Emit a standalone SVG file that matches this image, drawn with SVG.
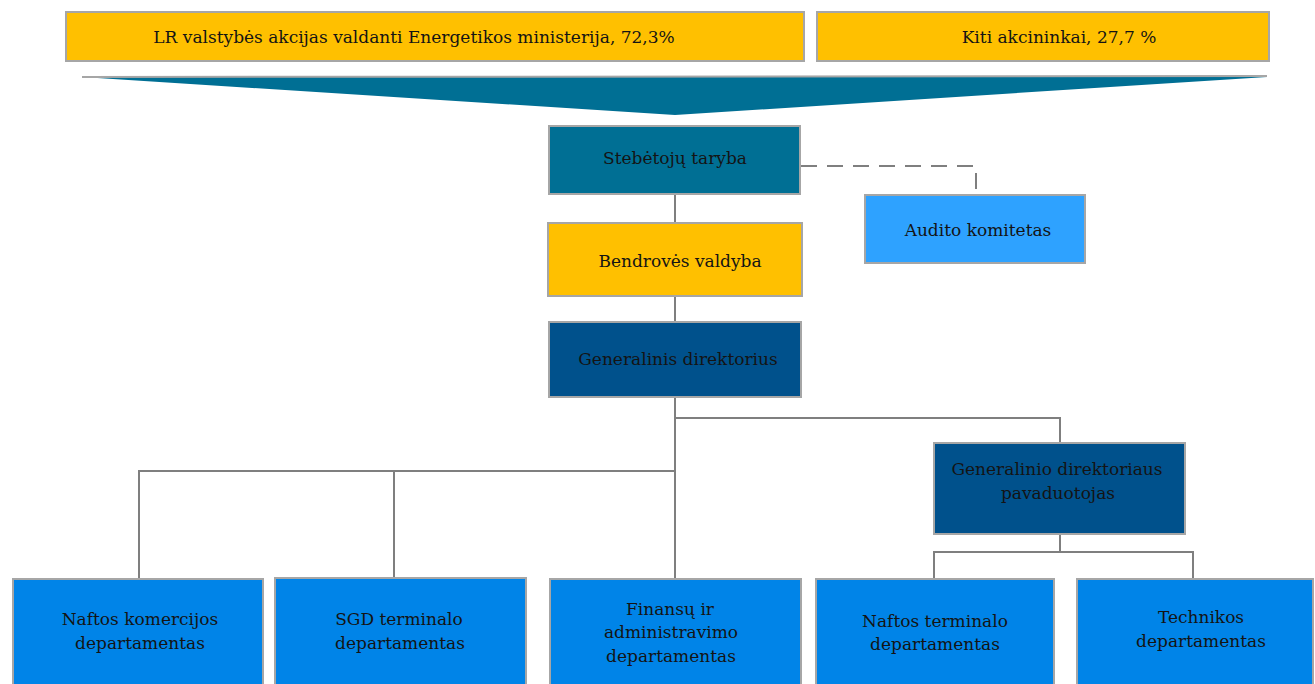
<svg xmlns="http://www.w3.org/2000/svg" width="1315" height="684" viewBox="0 0 1315 684">
<style>
.box{stroke:#A6A6A6;stroke-width:2}
.yellow{fill:#FFC000}
.teal{fill:#006F94}
.navy{fill:#00518C}
.light{fill:#2EA2FF}
.blue{fill:#0084E8}
text{font-family:"DejaVu Serif","Liberation Serif",serif;font-size:17px;fill:#141414;text-anchor:middle}
.conn{stroke:#7F7F7F;stroke-width:2;fill:none}
.dash{stroke:#7F7F7F;stroke-width:2;fill:none;stroke-dasharray:16 10}
</style>
<rect width="1315" height="684" fill="#FFFFFF"/>
<g id="connectors">
<path class="conn" d="M675 194 V223"/>
<path class="conn" d="M675 296 V322"/>
<path class="conn" d="M675 397 V579"/>
<path class="conn" d="M675 418 H1060 V444"/>
<path class="conn" d="M139 579 V471 H675"/>
<path class="conn" d="M394 471 V579"/>
<path class="conn" d="M1060 534 V552"/>
<path class="conn" d="M934 579 V552 H1193 V579"/>
<path class="dash" d="M801 166 H976 V195"/>
</g>
<g id="arrow">
<polygon points="82,77 1267,77 675,115" fill="#006F94"/>
<line x1="82" y1="77" x2="1267" y2="76" stroke="#A6A6A6" stroke-width="2"/>
</g>
<g id="ministerija">
<rect class="box yellow" x="66" y="12" width="738" height="49"/>
<text x="414" y="43">LR valstybės akcijas valdanti Energetikos ministerija, 72,3%</text>
</g>
<g id="kiti">
<rect class="box yellow" x="817" y="12" width="452" height="49"/>
<text x="1059" y="43">Kiti akcininkai, 27,7 %</text>
</g>
<g id="steb">
<rect class="box teal" x="549" y="126" width="251" height="68"/>
<text x="675" y="164">Stebėtojų taryba</text>
</g>
<g id="audito">
<rect class="box light" x="865" y="195" width="220" height="68"/>
<text x="978" y="236">Audito komitetas</text>
</g>
<g id="valdyba">
<rect class="box yellow" x="548" y="223" width="254" height="73"/>
<text x="680" y="267">Bendrovės valdyba</text>
</g>
<g id="direktorius">
<rect class="box navy" x="549" y="322" width="252" height="75"/>
<text x="678" y="365">Generalinis direktorius</text>
</g>
<g id="pavaduotojas">
<rect class="box navy" x="934" y="443" width="251" height="91"/>
<text x="1057" y="475">Generalinio direktoriaus</text>
<text x="1058" y="499">pavaduotojas</text>
</g>
<g id="naftos-komercijos">
<rect class="box blue" x="13" y="579" width="250" height="120"/>
<text x="140" y="625">Naftos komercijos</text>
<text x="140" y="649">departamentas</text>
</g>
<g id="sgd">
<rect class="box blue" x="275" y="578" width="251" height="121"/>
<text x="399" y="625">SGD terminalo</text>
<text x="400" y="649">departamentas</text>
</g>
<g id="finansu">
<rect class="box blue" x="550" y="579" width="251" height="120"/>
<text x="670" y="615">Finansų ir</text>
<text x="671" y="638">administravimo</text>
<text x="671" y="662">departamentas</text>
</g>
<g id="naftos-terminalo">
<rect class="box blue" x="816" y="579" width="238" height="120"/>
<text x="935" y="627">Naftos terminalo</text>
<text x="935" y="650">departamentas</text>
</g>
<g id="technikos">
<rect class="box blue" x="1077" y="579" width="236" height="120"/>
<text x="1201" y="623">Technikos</text>
<text x="1201" y="647">departamentas</text>
</g>
</svg>
